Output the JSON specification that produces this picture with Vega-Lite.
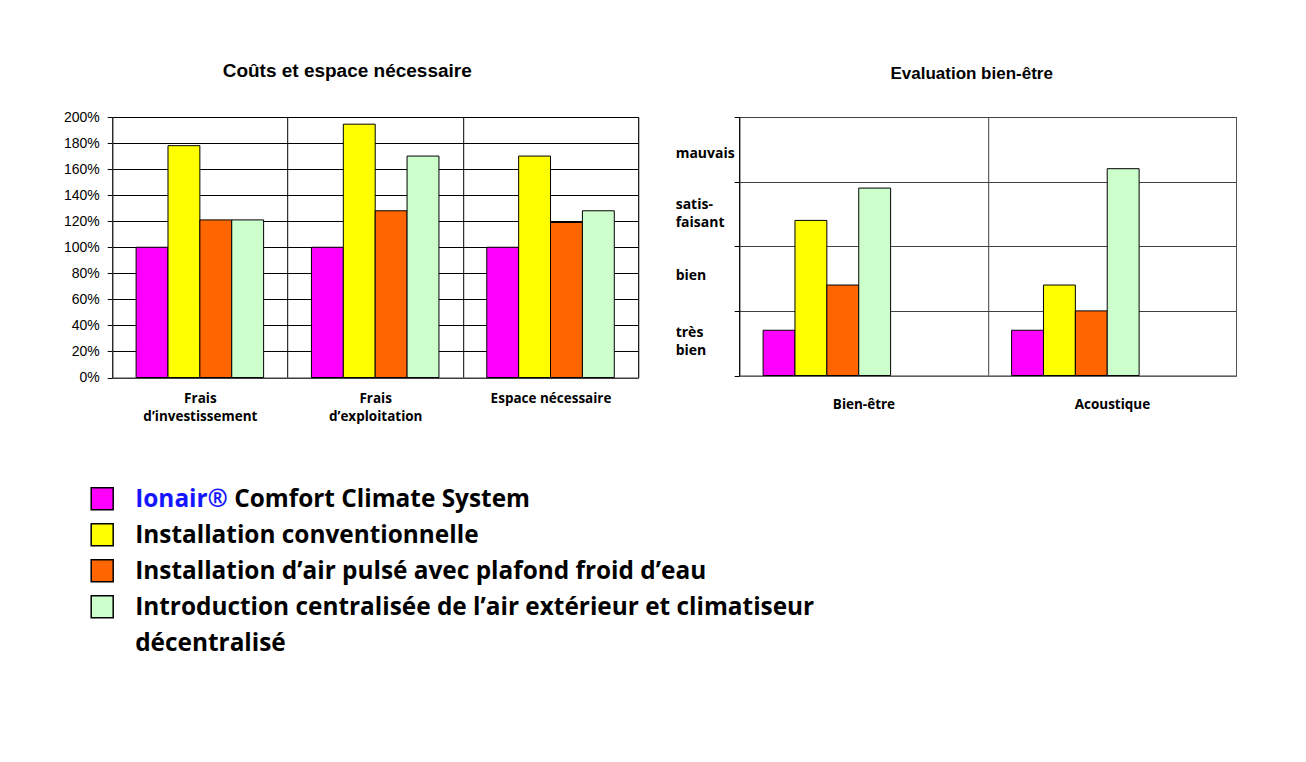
{
  "$schema": "https://vega.github.io/schema/vega-lite/v6.json",
  "background": "white",
  "padding": {"left": 62.2, "top": 61, "right": 0, "bottom": 0},
  "config": {
    "view": {"stroke": "#808080"},
    "font": "Liberation Sans",
    "title": {"font": "Liberation Sans", "fontWeight": "bold", "color": "black", "anchor": "middle"}
  },
  "datasets": {
    "costs": [
      {"group": "Frais d’investissement", "series": "Ionair® Comfort Climate System", "value": 1.00},
      {"group": "Frais d’investissement", "series": "Installation conventionnelle", "value": 1.78},
      {"group": "Frais d’investissement", "series": "Installation d’air pulsé avec plafond froid d’eau", "value": 1.21},
      {"group": "Frais d’investissement", "series": "Introduction centralisée de l’air extérieur et climatiseur décentralisé", "value": 1.21},
      {"group": "Frais d’exploitation", "series": "Ionair® Comfort Climate System", "value": 1.00},
      {"group": "Frais d’exploitation", "series": "Installation conventionnelle", "value": 1.945},
      {"group": "Frais d’exploitation", "series": "Installation d’air pulsé avec plafond froid d’eau", "value": 1.28},
      {"group": "Frais d’exploitation", "series": "Introduction centralisée de l’air extérieur et climatiseur décentralisé", "value": 1.70},
      {"group": "Espace nécessaire", "series": "Ionair® Comfort Climate System", "value": 1.00},
      {"group": "Espace nécessaire", "series": "Installation conventionnelle", "value": 1.70},
      {"group": "Espace nécessaire", "series": "Installation d’air pulsé avec plafond froid d’eau", "value": 1.19},
      {"group": "Espace nécessaire", "series": "Introduction centralisée de l’air extérieur et climatiseur décentralisé", "value": 1.28}
    ],
    "comfort": [
      {"group": "Bien-être", "series": "Ionair® Comfort Climate System", "value": 0.7},
      {"group": "Bien-être", "series": "Installation conventionnelle", "value": 2.4},
      {"group": "Bien-être", "series": "Installation d’air pulsé avec plafond froid d’eau", "value": 1.4},
      {"group": "Bien-être", "series": "Introduction centralisée de l’air extérieur et climatiseur décentralisé", "value": 2.9},
      {"group": "Acoustique", "series": "Ionair® Comfort Climate System", "value": 0.7},
      {"group": "Acoustique", "series": "Installation conventionnelle", "value": 1.4},
      {"group": "Acoustique", "series": "Installation d’air pulsé avec plafond froid d’eau", "value": 1.0},
      {"group": "Acoustique", "series": "Introduction centralisée de l’air extérieur et climatiseur décentralisé", "value": 3.2}
    ],
    "legend": [
      {"row": 1, "series": "Ionair® Comfort Climate System", "brand": "Ionair®", "label": "Comfort Climate System"},
      {"row": 2, "series": "Installation conventionnelle", "brand": "", "label": "Installation conventionnelle"},
      {"row": 3, "series": "Installation d’air pulsé avec plafond froid d’eau", "brand": "", "label": "Installation d’air pulsé avec plafond froid d’eau"},
      {"row": 4, "series": "Introduction centralisée de l’air extérieur et climatiseur décentralisé", "brand": "", "label": "Introduction centralisée de l’air extérieur et climatiseur"},
      {"row": 5, "series": null, "brand": "", "label": "décentralisé"}
    ]
  },
  "spacing": 56.75,
  "vconcat": [
    {
      "spacing": 35,
      "hconcat": [
        {
          "title": {"text": "Coûts et espace nécessaire", "fontSize": 19, "offset": 29.5, "dx": -28},
          "width": 526,
          "height": 260.5,
          "data": {"name": "costs"},
          "mark": {"type": "bar", "stroke": "black", "strokeWidth": 1},
          "encoding": {
            "x": {
              "field": "group", "type": "nominal",
              "sort": ["Frais d’investissement", "Frais d’exploitation", "Espace nécessaire"],
              "scale": {"paddingInner": 0, "paddingOuter": 0},
              "axis": {
                "title": null, "labelAngle": 0, "ticks": false, "grid": true, "tickBand": "extent",
                "gridColor": "black", "gridOpacity": 1, "domainColor": "#808080",
                "labelFont": "Open Sans", "labelFontWeight": "bold", "labelFontSize": 13.5, "labelColor": "black",
                "labelPadding": 14, "labelLineHeight": 18.5, "labelLimit": 0,
                "labelExpr": "datum.value == 'Frais d’investissement' ? ['Frais', 'd’investissement'] : datum.value == 'Frais d’exploitation' ? ['Frais', 'd’exploitation'] : datum.value"
              }
            },
            "xOffset": {
              "field": "series", "type": "nominal",
              "sort": ["Ionair® Comfort Climate System", "Installation conventionnelle", "Installation d’air pulsé avec plafond froid d’eau", "Introduction centralisée de l’air extérieur et climatiseur décentralisé"],
              "scale": {"paddingInner": 0, "paddingOuter": 0.75}
            },
            "y": {
              "field": "value", "type": "quantitative",
              "scale": {"domain": [0, 2], "nice": false},
              "axis": {
                "title": null, "values": [0, 0.2, 0.4, 0.6, 0.8, 1.0, 1.2, 1.4, 1.6, 1.8, 2.0], "format": ".0%",
                "grid": true, "gridColor": "black", "gridOpacity": 1, "domainColor": "#303030", "tickColor": "black",
                "tickSize": 5, "labelPadding": 8, "labelFont": "Liberation Sans", "labelFontSize": 14, "labelColor": "black"
              }
            },
            "color": {
              "field": "series", "type": "nominal", "legend": null,
              "scale": {
                "domain": ["Ionair® Comfort Climate System", "Installation conventionnelle", "Installation d’air pulsé avec plafond froid d’eau", "Introduction centralisée de l’air extérieur et climatiseur décentralisé"],
                "range": ["#FF00FF", "#FFFF00", "#FF6600", "#CCFFCC"]
              }
            }
          }
        },
        {
          "title": {"text": "Evaluation bien-être", "fontSize": 17, "offset": 34, "dx": -16},
          "width": 497,
          "height": 258.5,
          "data": {"name": "comfort"},
          "mark": {"type": "bar", "stroke": "black", "strokeWidth": 1},
          "encoding": {
            "x": {
              "field": "group", "type": "nominal",
              "sort": ["Bien-être", "Acoustique"],
              "scale": {"paddingInner": 0, "paddingOuter": 0},
              "axis": {
                "title": null, "labelAngle": 0, "ticks": false, "grid": true, "tickBand": "extent",
                "gridColor": "#404040", "gridOpacity": 1, "domainColor": "#808080",
                "labelFont": "Open Sans", "labelFontWeight": "bold", "labelFontSize": 13.5, "labelColor": "black",
                "labelPadding": 22
              }
            },
            "xOffset": {
              "field": "series", "type": "nominal",
              "sort": ["Ionair® Comfort Climate System", "Installation conventionnelle", "Installation d’air pulsé avec plafond froid d’eau", "Introduction centralisée de l’air extérieur et climatiseur décentralisé"],
              "scale": {"paddingInner": 0, "paddingOuter": 0.77}
            },
            "y": {
              "field": "value", "type": "quantitative",
              "scale": {"domain": [0, 4], "nice": false},
              "axis": {
                "title": null, "values": [0, 0.66, 1, 1.54, 2, 2.64, 3, 3.43, 4],
                "labelExpr": "datum.value == 0.66 ? ['très', 'bien'] : datum.value == 1.54 ? 'bien' : datum.value == 2.64 ? ['satis-', 'faisant'] : datum.value == 3.43 ? 'mauvais' : ''",
                "grid": true, "gridColor": "#404040",
                "gridOpacity": {"condition": {"test": "datum.value % 1 == 0", "value": 1}, "value": 0},
                "tickOpacity": {"condition": {"test": "datum.value % 1 == 0", "value": 1}, "value": 0},
                "domainColor": "black", "tickColor": "black", "tickSize": 5,
                "labelAlign": "left", "labelPadding": 59, "labelBaseline": "middle", "labelLineHeight": 18,
                "labelFont": "Open Sans", "labelFontWeight": "bold", "labelFontSize": 14, "labelColor": "black"
              }
            },
            "color": {
              "field": "series", "type": "nominal", "legend": null,
              "scale": {
                "domain": ["Ionair® Comfort Climate System", "Installation conventionnelle", "Installation d’air pulsé avec plafond froid d’eau", "Introduction centralisée de l’air extérieur et climatiseur décentralisé"],
                "range": ["#FF00FF", "#FFFF00", "#FF6600", "#CCFFCC"]
              }
            }
          }
        }
      ]
    },
    {
      "width": 760,
      "height": 180,
      "view": {"stroke": null},
      "data": {"name": "legend"},
      "encoding": {
        "x": {"datum": 0, "type": "quantitative", "scale": {"domain": [1, 77]}, "axis": null},
        "y": {"field": "row", "type": "ordinal", "scale": {"type": "point", "padding": 0.5}, "axis": null}
      },
      "layer": [
        {
          "transform": [{"filter": "isValid(datum.series)"}],
          "mark": {"type": "square", "size": 484, "filled": true, "opacity": 1, "stroke": "black", "strokeWidth": 1.5},
          "encoding": {
            "color": {
              "field": "series", "type": "nominal", "legend": null,
              "scale": {
                "domain": ["Ionair® Comfort Climate System", "Installation conventionnelle", "Installation d’air pulsé avec plafond froid d’eau", "Introduction centralisée de l’air extérieur et climatiseur décentralisé"],
                "range": ["#FF00FF", "#FFFF00", "#FF6600", "#CCFFCC"]
              }
            }
          }
        },
        {
          "transform": [{"filter": "datum.brand == ''"}],
          "mark": {"type": "text", "align": "left", "baseline": "alphabetic", "dx": 33, "dy": 8.7, "font": "Open Sans", "fontWeight": "bold", "fontSize": 24.4, "color": "black"},
          "encoding": {"text": {"field": "label"}}
        },
        {
          "transform": [{"filter": "datum.brand != ''"}],
          "mark": {"type": "text", "align": "left", "baseline": "alphabetic", "dx": 33, "dy": 8.7, "font": "Open Sans", "fontWeight": "bold", "fontSize": 24.4, "color": "#1515FF"},
          "encoding": {"text": {"field": "brand"}}
        },
        {
          "transform": [{"filter": "datum.brand != ''"}],
          "mark": {"type": "text", "align": "left", "baseline": "alphabetic", "dx": 132, "dy": 8.7, "font": "Open Sans", "fontWeight": "bold", "fontSize": 24.4, "color": "black"},
          "encoding": {"text": {"field": "label"}}
        }
      ]
    }
  ]
}
